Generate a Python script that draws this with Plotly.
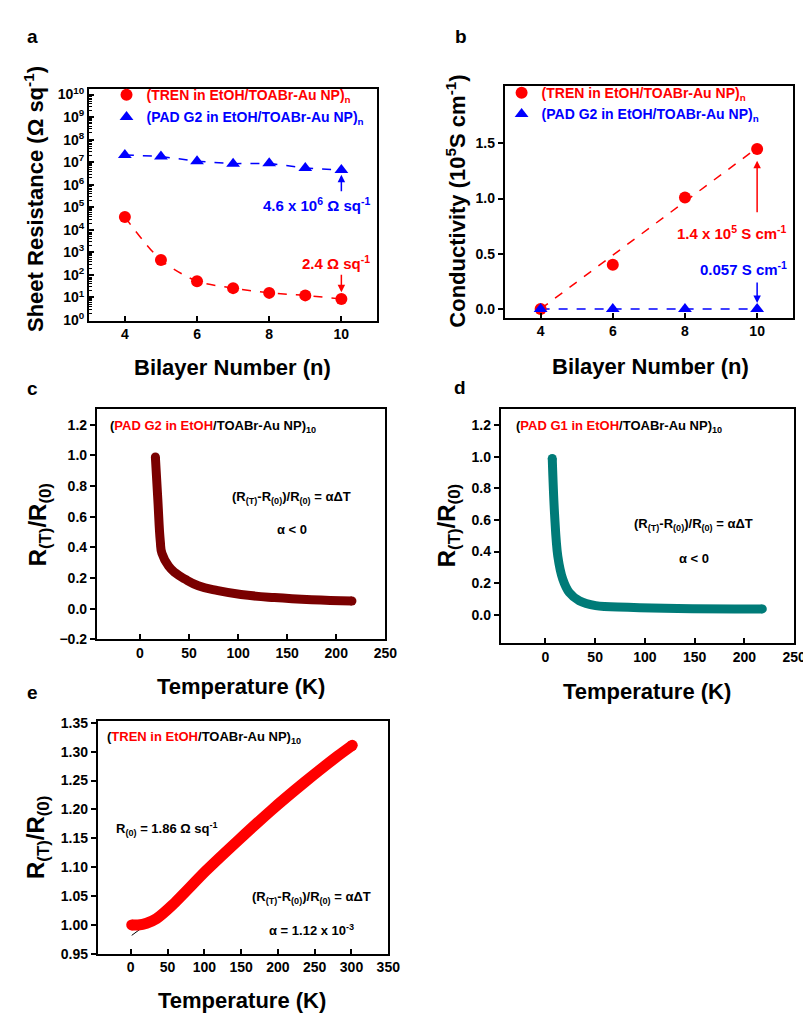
import plotly.graph_objects as go
import numpy as np

W, H = 811, 1014
FONT = "Liberation Sans, Arial, sans-serif"

# ---------------- data ----------------
# panel a : sheet resistance vs bilayer number
bilayer_a = [4, 5, 6, 7, 8, 9, 10]
tren_rs = [3.7e4, 457, 53, 26, 16, 12.4, 8.6]
pad_rs = [2.1e7, 1.8e7, 1.1e7, 8.6e6, 8.9e6, 5.5e6, 4.5e6]
# panel b : conductivity (10^5 S/cm)
bilayer_b = [4, 6, 8, 10]
tren_cond = [0.0, 0.40, 1.01, 1.45]
pad_cond = [0.0, 0.0, 0.0, 0.0]
# panel c : PAD G2
temp_c = [15.8, 18.3, 20.8, 22.5, 29.3, 36, 46, 59.5, 79.6, 103, 137, 175, 216]
ratio_c = [0.99, 0.71, 0.44, 0.36, 0.277, 0.234, 0.192, 0.149, 0.117, 0.092, 0.072, 0.058, 0.05]
# panel d : PAD G1
temp_d = [6.9, 9.2, 12.5, 17.5, 24, 34, 50.5, 83, 133, 218]
ratio_d = [0.99, 0.64, 0.37, 0.225, 0.141, 0.089, 0.058, 0.048, 0.04, 0.037]
# panel e : TREN
temp_e = [1.3, 10, 21.5, 35, 57, 102, 147, 191, 236, 281, 301]
ratio_e = [1.0, 1.0, 1.003, 1.011, 1.035, 1.0936, 1.1476, 1.1986, 1.2469, 1.2923, 1.311]
fit_t_e = [1.3, 12]
fit_r_e = [0.982, 0.992]

log_ticks = [10 ** k for k in range(0, 11)]
log_ticktext = [f"10<sup>{k}</sup>" for k in range(0, 11)]
log_minor = [m * 10 ** k for k in range(0, 10) for m in range(2, 10)]

RED = "#FF0000"
BLUE = "#0000FF"
DARKRED = "#7A0000"
TEAL = "#007B78"


def xd(a, b):
    return [a / W, b / W]


def yd(top, bot):
    return [1 - bot / H, 1 - top / H]


fig = go.Figure()

# ---- panel a ----
fig.add_trace(go.Scatter(x=bilayer_a, y=tren_rs, mode="lines", line=dict(color=RED, dash="dash", width=1.5, shape="spline", smoothing=0.8),
                         showlegend=False, xaxis="x", yaxis="y"))
fig.add_trace(go.Scatter(x=bilayer_a, y=pad_rs, mode="lines", line=dict(color=BLUE, dash="dash", width=1.5),
                         showlegend=False, xaxis="x", yaxis="y"))
fig.add_trace(go.Scatter(x=bilayer_a, y=tren_rs, mode="markers", marker=dict(color=RED, size=12, symbol="circle"),
                         name="<span style='color:#FF0000'>(TREN in EtOH/TOABr-Au NP)<sub>n</sub></span>",
                         legend="legend", legendgroup="a1", xaxis="x", yaxis="y"))
fig.add_trace(go.Scatter(x=bilayer_a, y=pad_rs, mode="markers", marker=dict(color=BLUE, size=12, symbol="triangle-up"),
                         name="<span style='color:#0000FF'>(PAD G2 in EtOH/TOABr-Au NP)<sub>n</sub></span>",
                         legend="legend", legendgroup="a2", xaxis="x", yaxis="y"))

# ---- panel b ----
slope, icpt = np.polyfit(bilayer_b, tren_cond, 1)
fit_x_b = [bilayer_b[0], bilayer_b[-1]]
fit_y_b = [max(0.0, slope * v + icpt) for v in fit_x_b]
fig.add_trace(go.Scatter(x=fit_x_b, y=fit_y_b, mode="lines", line=dict(color=RED, dash="dash", width=1.5),
                         showlegend=False, xaxis="x2", yaxis="y2"))
fig.add_trace(go.Scatter(x=bilayer_b, y=pad_cond, mode="lines", line=dict(color=BLUE, dash="dash", width=1.5),
                         showlegend=False, xaxis="x2", yaxis="y2"))
fig.add_trace(go.Scatter(x=bilayer_b, y=tren_cond, mode="markers", marker=dict(color=RED, size=12, symbol="circle"),
                         name="<span style='color:#FF0000'>(TREN in EtOH/TOABr-Au NP)<sub>n</sub></span>",
                         legend="legend2", legendgroup="b1", xaxis="x2", yaxis="y2"))
fig.add_trace(go.Scatter(x=bilayer_b, y=pad_cond, mode="markers", marker=dict(color=BLUE, size=12, symbol="triangle-up"),
                         name="<span style='color:#0000FF'>(PAD G2 in EtOH/TOABr-Au NP)<sub>n</sub></span>",
                         legend="legend2", legendgroup="b2", xaxis="x2", yaxis="y2"))

# ---- panel c ----
fig.add_trace(go.Scatter(x=temp_c, y=ratio_c, mode="lines", line=dict(color=DARKRED, width=9, shape="spline", smoothing=1.3),
                         showlegend=False, xaxis="x3", yaxis="y3"))
fig.add_trace(go.Scatter(x=[temp_c[0], temp_c[-1]], y=[ratio_c[0], ratio_c[-1]], mode="markers",
                         marker=dict(color=DARKRED, size=9), showlegend=False, xaxis="x3", yaxis="y3"))
# ---- panel d ----
fig.add_trace(go.Scatter(x=temp_d, y=ratio_d, mode="lines", line=dict(color=TEAL, width=9, shape="spline", smoothing=1.0),
                         showlegend=False, xaxis="x4", yaxis="y4"))
fig.add_trace(go.Scatter(x=[temp_d[0], temp_d[-1]], y=[ratio_d[0], ratio_d[-1]], mode="markers",
                         marker=dict(color=TEAL, size=9), showlegend=False, xaxis="x4", yaxis="y4"))
# ---- panel e ----
fig.add_trace(go.Scatter(x=fit_t_e, y=fit_r_e, mode="lines", line=dict(color="black", width=1),
                         showlegend=False, xaxis="x5", yaxis="y5"))
fig.add_trace(go.Scatter(x=temp_e, y=ratio_e, mode="lines", line=dict(color=RED, width=11, shape="spline", smoothing=0.6),
                         showlegend=False, xaxis="x5", yaxis="y5"))
fig.add_trace(go.Scatter(x=[temp_e[0], temp_e[-1]], y=[ratio_e[0], ratio_e[-1]], mode="markers",
                         marker=dict(color=RED, size=11), showlegend=False, xaxis="x5", yaxis="y5"))

tickfont = dict(family=FONT, size=14, color="black", weight="bold")
common = dict(showline=True, linecolor="black", linewidth=1.6, mirror=True, showgrid=False, zeroline=False,
              tickfont=tickfont, ticklen=5, tickwidth=1.5, tickcolor="black")

legfont = dict(family=FONT, size=14, weight="bold")
fig.update_layout(
    width=W, height=H, margin=dict(l=0, r=0, t=0, b=0),
    paper_bgcolor="white", plot_bgcolor="white",
    font=dict(family=FONT, color="black"),
    xaxis=dict(domain=xd(82, 375), range=[3, 11], tickvals=[4, 6, 8, 10], ticks="inside", anchor="y", **common),
    yaxis=dict(domain=yd(76, 311), type="log", range=[-0.03, 10.25], tickvals=log_ticks, ticktext=log_ticktext,
               ticks="inside", anchor="x",
               minor=dict(ticks="inside", ticklen=3, tickwidth=1, tickcolor="black", tickmode="array",
                          tickvals=log_minor, showgrid=False), **common),
    xaxis2=dict(domain=xd(504, 797), range=[3, 11], tickvals=[4, 6, 8, 10], ticks="inside", anchor="y2", **common),
    yaxis2=dict(domain=yd(73, 308), range=[-0.08, 2.02], tickvals=[0, 0.5, 1.0, 1.5], tickformat=".1f",
                ticks="outside", anchor="x2", **common),
    xaxis3=dict(domain=xd(90, 383), range=[-44, 250.01], tickvals=[0, 50, 100, 150, 200, 250], ticks="inside",
                anchor="y3", **common),
    yaxis3=dict(domain=yd(401, 634), range=[-0.2, 1.3], tickvals=[-0.2, 0, 0.2, 0.4, 0.6, 0.8, 1.0, 1.2],
                tickformat=".1f", ticks="outside", anchor="x3", **common),
    xaxis4=dict(domain=xd(500, 798), range=[-45, 250.01], tickvals=[0, 50, 100, 150, 200, 250], ticks="inside",
                anchor="y4", **common),
    yaxis4=dict(domain=yd(401, 638), range=[-0.18, 1.3], tickvals=[0, 0.2, 0.4, 0.6, 0.8, 1.0, 1.2],
                tickformat=".1f", ticks="outside", anchor="x4", **common),
    xaxis5=dict(domain=xd(91, 386), range=[-45, 350.01], tickvals=[0, 50, 100, 150, 200, 250, 300, 350],
                ticks="inside", anchor="y5", **common),
    yaxis5=dict(domain=yd(717, 953), range=[0.95, 1.353], dtick=0.05, tick0=0.95, tickformat=".2f",
                ticks="outside", anchor="x5", **common),
    legend=dict(x=100 / W, y=1 - 66 / H, xanchor="left", yanchor="top", bgcolor="rgba(0,0,0,0)",
                font=legfont, traceorder="grouped", tracegroupgap=1, itemsizing="trace"),
    legend2=dict(x=501 / W, y=1 - 64 / H, xanchor="left", yanchor="top", bgcolor="rgba(0,0,0,0)",
                 font=legfont, traceorder="grouped", tracegroupgap=0, itemsizing="trace"),
)

anns = []


def txt(text, x, y, size=13, color="black", xanchor="center", yanchor="middle", angle=0):
    anns.append(dict(text=text, x=x / W, y=1 - y / H, xref="paper", yref="paper", showarrow=False,
                     xanchor=xanchor, yanchor=yanchor, textangle=angle,
                     font=dict(family=FONT, size=size, color=color, weight="bold")))


# panel letters
for letter, px, py in [("a", 25, 23), ("b", 460, 23), ("c", 25, 380), ("d", 459, 379), ("e", 25, 688)]:
    txt(letter, px, py, size=19)

# axis titles
txt("Bilayer Number (n)", 228, 358, size=22)
txt("Bilayer Number (n)", 652, 357, size=22)
txt("Temperature (K)", 237, 682, size=22)
txt("Temperature (K)", 649, 687, size=22)
txt("Temperature (K)", 238, 1000, size=22)
txt("Sheet Resistance (Ω sq<sup>-1</sup>)", 27, 188, size=22, angle=-90)
txt("Conductivity (10<sup>5</sup>S cm<sup>-1</sup>)", 455, 190, size=22, angle=-90)
txt("R<sub>(T)</sub>/R<sub>(0)</sub>", 32, 518, size=24, angle=-90)
txt("R<sub>(T)</sub>/R<sub>(0)</sub>", 447, 519, size=24, angle=-90)
txt("R<sub>(T)</sub>/R<sub>(0)</sub>", 30, 835, size=24, angle=-90)

# panel a / b value labels
txt("4.6 x 10<sup>6</sup> Ω sq<sup>-1</sup>", 369, 193, size=15, color=BLUE, xanchor="right")
txt("2.4 Ω sq<sup>-1</sup>", 369, 252, size=15, color=RED, xanchor="right")
txt("1.4 x 10<sup>5</sup> S cm<sup>-1</sup>", 793, 222, size=15, color=RED, xanchor="right")
txt("0.057 S cm<sup>-1</sup>", 793, 258, size=15, color=BLUE, xanchor="right")

# panel c, d, e texts
formula = "(R<sub>(T)</sub>-R<sub>(0)</sub>)/R<sub>(0)</sub> = αΔT"
txt("(<span style='color:#FF0000'>PAD G2 in EtOH</span>/TOABr-Au NP)<sub>10</sub>", 101, 418, size=13, xanchor="left")
txt(formula, 288, 490, size=13)
txt("α < 0", 288, 523, size=13)
txt("(<span style='color:#FF0000'>PAD G1 in EtOH</span>/TOABr-Au NP)<sub>10</sub>", 514, 418, size=13, xanchor="left")
txt(formula, 696, 518, size=13)
txt("α < 0", 696, 552, size=13)
txt("(<span style='color:#FF0000'>TREN in EtOH</span>/TOABr-Au NP)<sub>10</sub>", 98, 734, size=13, xanchor="left")
txt("R<sub>(0)</sub> = 1.86 Ω sq<sup>-1</sup>", 108, 826, size=13, xanchor="left")
txt(formula, 308, 896, size=13)
txt("α = 1.12 x 10<sup>-3</sup>", 308, 929, size=13)

# arrows
arrow = dict(text="", showarrow=True, arrowhead=2, arrowsize=1, arrowwidth=1.5, ax=0)
anns.append(dict(arrow, x=10, y=6.44, xref="x", yref="y", ay=18, arrowcolor=BLUE))
anns.append(dict(arrow, x=10, y=1.23, xref="x", yref="y", ay=-19, arrowcolor=RED))
anns.append(dict(arrow, x=10, y=1.343, xref="x2", yref="y2", ay=53, arrowcolor=RED))
anns.append(dict(arrow, x=10, y=0.053, xref="x2", yref="y2", ay=-22, arrowcolor=BLUE))

fig.update_layout(annotations=anns)
fig.write_html("out.html")
